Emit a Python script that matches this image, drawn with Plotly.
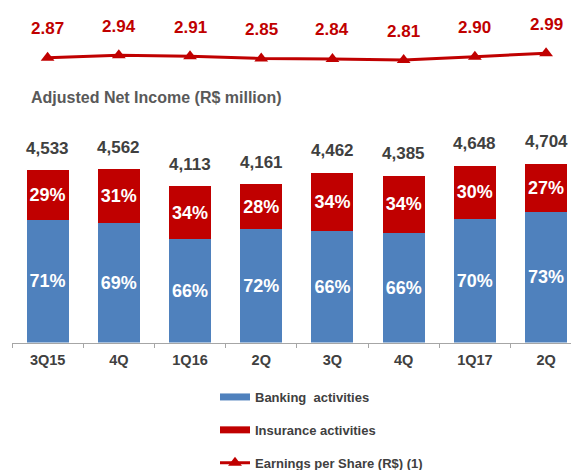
import plotly.graph_objects as go

categories = ["3Q15", "4Q", "1Q16", "2Q", "3Q", "4Q ", "1Q17", "2Q "]
tick_labels = ["3Q15", "4Q", "1Q16", "2Q", "3Q", "4Q", "1Q17", "2Q"]
totals = [4533, 4562, 4113, 4161, 4462, 4385, 4648, 4704]
banking_pct = [71, 69, 66, 72, 66, 66, 70, 73]
insurance_pct = [29, 31, 34, 28, 34, 34, 30, 27]
eps = [2.87, 2.94, 2.91, 2.85, 2.84, 2.81, 2.90, 2.99]

BLUE = "#4F81BD"
RED = "#C00000"
GRAY = "#404040"
FONT = "Liberation Sans, Arial, sans-serif"

banking_vals = [t * p / 100 for t, p in zip(totals, banking_pct)]
insurance_vals = [t * p / 100 for t, p in zip(totals, insurance_pct)]

fig = go.Figure()

for vals, pcts, color, name in [
    (banking_vals, banking_pct, BLUE, "Banking  activities"),
    (insurance_vals, insurance_pct, RED, "Insurance activities"),
]:
    fig.add_trace(go.Bar(
        x=categories, y=vals, name=name,
        marker=dict(color=color, line=dict(width=0)),
        text=[f"{p}%" for p in pcts], textposition="inside", textangle=0,
        insidetextanchor="middle", constraintext="none",
        textfont=dict(color="white", size=18, family=FONT, weight="bold"),
        showlegend=False, yaxis="y", hoverinfo="skip",
    ))

# legend-only entries with wide line swatches
fig.add_trace(go.Scatter(
    x=[None], y=[None], mode="lines", name="Banking  activities",
    line=dict(color=BLUE, width=7), legendgroup="a", yaxis="y",
))
fig.add_trace(go.Scatter(
    x=[None], y=[None], mode="lines", name="Insurance activities",
    line=dict(color=RED, width=7), legendgroup="b", yaxis="y",
))

fig.add_trace(go.Scatter(
    x=categories, y=eps, mode="lines+markers", name="Earnings per Share (R$) (1)",
    line=dict(color=RED, width=3),
    marker=dict(symbol="triangle-up", size=12, color=RED),
    yaxis="y2", legendgroup="c", hoverinfo="skip",
))

annotations = []
for c, t in zip(categories, totals):
    annotations.append(dict(
        x=c, y=t, xref="x", yref="y", text=f"{t:,}", showarrow=False,
        yshift=22, yanchor="middle",
        font=dict(size=17, color=GRAY, family=FONT, weight="bold"),
    ))
for c, v in zip(categories, eps):
    annotations.append(dict(
        x=c, y=v, xref="x", yref="y2", text=f"{v:.2f}", showarrow=False,
        yshift=29, yanchor="middle",
        font=dict(size=17, color=RED, family=FONT, weight="bold"),
    ))
annotations.append(dict(
    x=(29 - 12) / 559, y=(470 - 97) / 470, xref="paper", yref="paper",
    xanchor="left", yanchor="middle", showarrow=False,
    text="Adjusted Net Income (R$ million)",
    font=dict(size=16, color="#595959", family=FONT, weight="bold"),
))

fig.update_layout(
    width=571, height=470,
    margin=dict(l=12, r=0, t=0, b=0, autoexpand=False),
    paper_bgcolor="white", plot_bgcolor="white",
    barmode="stack", bargap=0.41,
    font=dict(family=FONT, color=GRAY),
    xaxis=dict(
        type="category", range=[-0.5, 7.35], automargin=False,
        tickmode="array", tickvals=categories, ticktext=tick_labels,
        tickson="boundaries", ticks="outside", ticklen=4, tickcolor="#A6A6A6",
        ticklabelstandoff=4,
        showline=True, linecolor="#A6A6A6", linewidth=1,
        showgrid=False, zeroline=False,
        tickfont=dict(size=14.5, color=GRAY, family=FONT, weight="bold"),
        fixedrange=True,
    ),
    yaxis=dict(
        domain=[(470 - 342.5) / 470, (470 - 120) / 470], automargin=False,
        range=[0, 222.5 / 0.038], visible=False, showgrid=False, zeroline=False,
    ),
    yaxis2=dict(
        domain=[(470 - 80) / 470, (470 - 40) / 470], automargin=False,
        range=[2.81 - 20 / 37, 2.81 + 20 / 37], visible=False, anchor="x",
        showgrid=False, zeroline=False,
    ),
    legend=dict(
        x=(215 - 12) / 559, y=(470 - 382) / 470, xanchor="left", yanchor="top",
        font=dict(size=13, color=GRAY, family=FONT, weight="bold"),
        tracegroupgap=13, bgcolor="rgba(0,0,0,0)", traceorder="grouped",
    ),
    annotations=annotations,
)

fig.write_html(
    "out.html",
    config={"displayModeBar": False, "staticPlot": True},
    post_script="document.body.style.margin='0';document.body.style.overflow='hidden';",
)
